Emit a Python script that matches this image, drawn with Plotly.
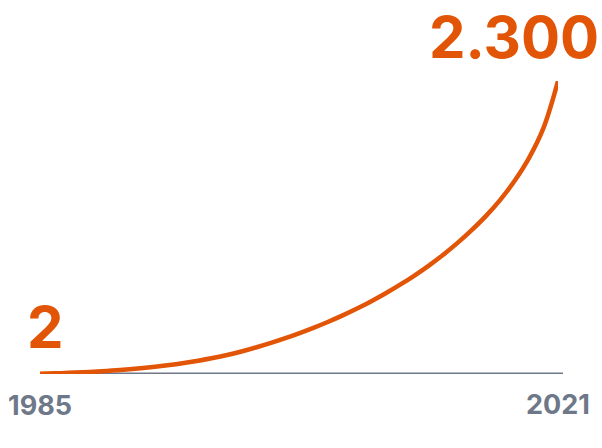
import plotly.graph_objects as go

years = list(range(1985, 2022))
values = [2, 5, 9, 14, 20, 27, 36, 46, 57, 70,
          86, 104, 125, 149, 177, 208, 242, 279, 319, 362,
          408, 458, 512, 570, 632, 699, 771, 849, 934, 1027,
          1129, 1241, 1369, 1519, 1699, 1934, 2300]
start_label = "2"
end_label = "2.300"
year_labels = ["1985", "2021"]

ORANGE = "#E25406"
GRAY = "#6E7889"

W, H = 602, 448
L, R, T, B = 40, 44, 81, 74
pw, ph = W - L - R, H - T - B

def px_x(px):
    return (px - L) / pw

def px_y(py):
    return (H - B - py) / ph

fig = go.Figure()
fig.add_trace(go.Scatter(
    x=years, y=values, mode="lines",
    line=dict(color=ORANGE, width=4.5, shape="spline", smoothing=1.0),
    cliponaxis=False, hoverinfo="skip", showlegend=False,
))

fig.add_shape(type="line", xref="paper", yref="y", x0=0, x1=px_x(563), y0=0, y1=0,
              line=dict(color=GRAY, width=3.2), layer="below")

big = dict(family="Inter", size=58, color=ORANGE, weight="bold")
small = dict(family="Inter", size=27, color=GRAY, weight="bold")

fig.add_annotation(xref="paper", yref="paper", x=px_x(25), y=px_y(327), text=start_label,
                   xanchor="left", yanchor="middle", showarrow=False, font=big)
fig.add_annotation(xref="paper", yref="paper", x=px_x(601), y=px_y(37), text=end_label,
                   xanchor="right", yanchor="middle", showarrow=False, font=big)
fig.add_annotation(xref="paper", yref="paper", x=px_x(6), y=px_y(405), text=year_labels[0],
                   xanchor="left", yanchor="middle", showarrow=False, font=small)
fig.add_annotation(xref="paper", yref="paper", x=px_x(592), y=px_y(404), text=year_labels[1],
                   xanchor="right", yanchor="middle", showarrow=False, font=small)

fig.update_layout(
    width=W, height=H,
    margin=dict(l=L, r=R, t=T, b=B),
    paper_bgcolor="white", plot_bgcolor="white",
    xaxis=dict(range=[1985, 2021], visible=False, fixedrange=True),
    yaxis=dict(range=[0, 2300], visible=False, fixedrange=True),
    showlegend=False,
)

fig.write_html("out.html", config={"displayModeBar": False},
               post_script="document.body.style.margin='0px';")
